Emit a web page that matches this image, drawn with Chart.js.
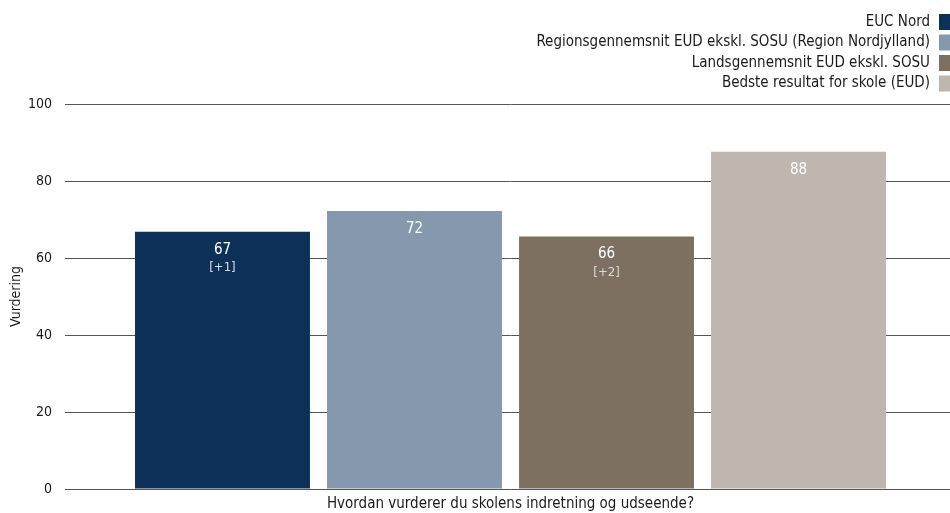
<!DOCTYPE html>
<html>
<head>
<meta charset="utf-8">
<script src="https://cdn.jsdelivr.net/npm/chart.js@4"></script>
<style>
html,body{margin:0;padding:0;background:#fff;overflow:hidden;width:950px;height:513px;}
#wrap{position:absolute;left:0;top:0;width:956px;height:513px;}
</style>
</head>
<body>
<div id="wrap"><canvas id="c" width="956" height="513"></canvas></div>
<script>
const categories = ["Hvordan vurderer du skolens indretning og udseende?"];
const seriesNames = ["EUC Nord", "Regionsgennemsnit EUD ekskl. SOSU (Region Nordjylland)", "Landsgennemsnit EUD ekskl. SOSU", "Bedste resultat for skole (EUD)"];
const seriesValues = [66.8, 72.2, 65.6, 87.6];
const seriesChanges = ["[+1]", null, "[+2]", null];
const seriesColors = ["#0c3057", "#8698ad", "#7d7060", "#bfb6b0"];
const yTicks = [0, 20, 40, 60, 80, 100];
const yTitle = "Vurdering";

const FONT = "'DejaVu Sans Condensed', 'DejaVu Sans', sans-serif";

const datasets = seriesNames.map((n, i) => ({
  label: n,
  data: [seriesValues[i]],
  backgroundColor: seriesColors[i],
  borderWidth: 0,
  categoryPercentage: 0.862,
  barPercentage: 0.911
}));

const labelPlugin = {
  id: 'barLabels',
  afterDatasetsDraw(chart) {
    const ctx = chart.ctx;
    ctx.save();
    ctx.textAlign = 'center';
    ctx.textBaseline = 'middle';
    chart.data.datasets.forEach((ds, i) => {
      const meta = chart.getDatasetMeta(i);
      meta.data.forEach((bar) => {
        ctx.fillStyle = '#ffffff';
        ctx.font = "15px " + FONT;
        ctx.fillText(String(Math.round(seriesValues[i])), bar.x, bar.y + 18);
        if (seriesChanges[i]) {
          ctx.fillStyle = '#dcdcdc';
          ctx.font = "13px " + FONT;
          ctx.fillText(seriesChanges[i], bar.x, bar.y + 36);
        }
      });
    });
    ctx.restore();
  }
};

const legendPlugin = {
  id: 'rightLegend',
  afterDraw(chart) {
    const ctx = chart.ctx;
    ctx.save();
    ctx.font = "15px " + FONT;
    ctx.textAlign = 'right';
    ctx.textBaseline = 'middle';
    const rows = [22, 42.5, 63, 83.5];
    seriesNames.forEach((n, i) => {
      const y = rows[i];
      ctx.fillStyle = '#1a1a1a';
      ctx.fillText(n, 930, y);
      ctx.fillStyle = seriesColors[i];
      ctx.fillRect(939, y - 8, 12, 16);
    });
    ctx.restore();
  }
};

new Chart(document.getElementById('c'), {
  type: 'bar',
  data: { labels: categories, datasets },
  plugins: [labelPlugin, legendPlugin],
  options: {
    responsive: false,
    animation: false,
    layout: { padding: { top: 104, left: 0, right: 0, bottom: 0 } },
    plugins: { legend: { display: false }, tooltip: { enabled: false } },
    scales: {
      x: {
        grid: { display: false, drawTicks: false },
        border: { display: false },
        ticks: { color: '#1a1a1a', font: { size: 15, family: FONT }, padding: 6 },
        afterFit(s) { s.height = 24; }
      },
      y: {
        min: 0, max: 100,
        afterBuildTicks(s) { s.ticks = yTicks.map(v => ({ value: v })); },
        grid: { color: '#555555', lineWidth: 1, drawTicks: false },
        border: { display: false },
        ticks: { color: '#1a1a1a', font: { size: 14, family: FONT }, padding: 13 },
        title: { display: true, text: yTitle, color: '#1a1a1a', font: { size: 14, family: FONT }, padding: { top: 8, bottom: 4 } },
        afterFit(s) { s.width = 65; }
      }
    }
  }
});
</script>
</body>
</html>
